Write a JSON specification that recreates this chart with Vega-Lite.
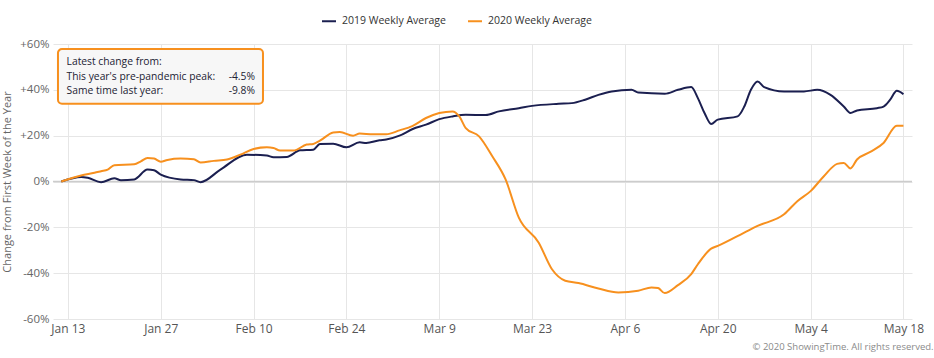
{
  "$schema": "https://vega.github.io/schema/vega-lite/v6.json",
  "autosize": {"type": "none"},
  "width": 859,
  "height": 275,
  "padding": {"left": 53, "top": 44, "right": 22, "bottom": 39},
  "background": "white",
  "config": {
    "font": "Open Sans",
    "view": {"stroke": null},
    "axis": {"labelFont": "Open Sans", "titleFont": "Open Sans", "domain": false, "ticks": false, "gridColor": "#e6e6e6", "gridWidth": 1}
  },
  "title": {"text": "© 2020 ShowingTime. All rights reserved.", "orient": "bottom", "anchor": "end", "fontSize": 9.5, "fontWeight": "normal", "color": "#8a8a8a", "offset": 8, "dx": 10, "font": "Open Sans"},
  "datasets": {
    "series": [
      {"date": "2020-01-12T00:00", "series": "2019 Weekly Average", "value": 0},
      {"date": "2020-01-15T00:00", "series": "2019 Weekly Average", "value": 2.0},
      {"date": "2020-01-16T00:00", "series": "2019 Weekly Average", "value": 1.6},
      {"date": "2020-01-18T00:00", "series": "2019 Weekly Average", "value": -0.3},
      {"date": "2020-01-20T00:00", "series": "2019 Weekly Average", "value": 1.4},
      {"date": "2020-01-21T00:00", "series": "2019 Weekly Average", "value": 0.6},
      {"date": "2020-01-23T00:00", "series": "2019 Weekly Average", "value": 0.9},
      {"date": "2020-01-25T00:00", "series": "2019 Weekly Average", "value": 5.2},
      {"date": "2020-01-26T00:00", "series": "2019 Weekly Average", "value": 4.9},
      {"date": "2020-01-27T00:00", "series": "2019 Weekly Average", "value": 3.0},
      {"date": "2020-01-30T00:00", "series": "2019 Weekly Average", "value": 0.9},
      {"date": "2020-02-01T00:00", "series": "2019 Weekly Average", "value": 0.6},
      {"date": "2020-02-02T00:00", "series": "2019 Weekly Average", "value": -0.3},
      {"date": "2020-02-05T00:00", "series": "2019 Weekly Average", "value": 5.2},
      {"date": "2020-02-09T00:00", "series": "2019 Weekly Average", "value": 11.7},
      {"date": "2020-02-12T00:00", "series": "2019 Weekly Average", "value": 11.3},
      {"date": "2020-02-13T00:00", "series": "2019 Weekly Average", "value": 10.6},
      {"date": "2020-02-15T00:00", "series": "2019 Weekly Average", "value": 10.7},
      {"date": "2020-02-17T00:00", "series": "2019 Weekly Average", "value": 13.6},
      {"date": "2020-02-19T00:00", "series": "2019 Weekly Average", "value": 13.9},
      {"date": "2020-02-20T00:00", "series": "2019 Weekly Average", "value": 16.4},
      {"date": "2020-02-22T00:00", "series": "2019 Weekly Average", "value": 16.5},
      {"date": "2020-02-24T00:00", "series": "2019 Weekly Average", "value": 14.9},
      {"date": "2020-02-26T00:00", "series": "2019 Weekly Average", "value": 17.1},
      {"date": "2020-02-27T00:00", "series": "2019 Weekly Average", "value": 16.8},
      {"date": "2020-02-29T00:00", "series": "2019 Weekly Average", "value": 18.0},
      {"date": "2020-03-01T00:00", "series": "2019 Weekly Average", "value": 18.3},
      {"date": "2020-03-03T00:00", "series": "2019 Weekly Average", "value": 20.0},
      {"date": "2020-03-05T00:00", "series": "2019 Weekly Average", "value": 22.9},
      {"date": "2020-03-07T00:00", "series": "2019 Weekly Average", "value": 24.8},
      {"date": "2020-03-09T00:00", "series": "2019 Weekly Average", "value": 27.2},
      {"date": "2020-03-11T00:00", "series": "2019 Weekly Average", "value": 28.4},
      {"date": "2020-03-13T00:00", "series": "2019 Weekly Average", "value": 29.1},
      {"date": "2020-03-16T00:00", "series": "2019 Weekly Average", "value": 29.0},
      {"date": "2020-03-18T00:00", "series": "2019 Weekly Average", "value": 30.6},
      {"date": "2020-03-21T00:00", "series": "2019 Weekly Average", "value": 32.0},
      {"date": "2020-03-23T00:00", "series": "2019 Weekly Average", "value": 33.0},
      {"date": "2020-03-27T00:00", "series": "2019 Weekly Average", "value": 33.9},
      {"date": "2020-03-29T00:00", "series": "2019 Weekly Average", "value": 34.2},
      {"date": "2020-03-31T00:00", "series": "2019 Weekly Average", "value": 35.7},
      {"date": "2020-04-02T00:00", "series": "2019 Weekly Average", "value": 37.8},
      {"date": "2020-04-04T00:00", "series": "2019 Weekly Average", "value": 39.3},
      {"date": "2020-04-07T00:00", "series": "2019 Weekly Average", "value": 40.0},
      {"date": "2020-04-08T00:00", "series": "2019 Weekly Average", "value": 38.8},
      {"date": "2020-04-12T00:00", "series": "2019 Weekly Average", "value": 38.3},
      {"date": "2020-04-14T00:00", "series": "2019 Weekly Average", "value": 40.0},
      {"date": "2020-04-16T00:00", "series": "2019 Weekly Average", "value": 41.2},
      {"date": "2020-04-17T00:00", "series": "2019 Weekly Average", "value": 36.4},
      {"date": "2020-04-18T00:00", "series": "2019 Weekly Average", "value": 29.9},
      {"date": "2020-04-19T00:00", "series": "2019 Weekly Average", "value": 25.1},
      {"date": "2020-04-20T00:00", "series": "2019 Weekly Average", "value": 27.0},
      {"date": "2020-04-23T00:00", "series": "2019 Weekly Average", "value": 28.4},
      {"date": "2020-04-24T00:00", "series": "2019 Weekly Average", "value": 32.7},
      {"date": "2020-04-25T00:00", "series": "2019 Weekly Average", "value": 40.0},
      {"date": "2020-04-26T00:00", "series": "2019 Weekly Average", "value": 43.6},
      {"date": "2020-04-27T00:00", "series": "2019 Weekly Average", "value": 41.2},
      {"date": "2020-04-30T00:00", "series": "2019 Weekly Average", "value": 39.3},
      {"date": "2020-05-03T00:00", "series": "2019 Weekly Average", "value": 39.3},
      {"date": "2020-05-05T00:00", "series": "2019 Weekly Average", "value": 40.0},
      {"date": "2020-05-07T00:00", "series": "2019 Weekly Average", "value": 37.8},
      {"date": "2020-05-09T00:00", "series": "2019 Weekly Average", "value": 32.7},
      {"date": "2020-05-10T00:00", "series": "2019 Weekly Average", "value": 29.9},
      {"date": "2020-05-11T00:00", "series": "2019 Weekly Average", "value": 31.0},
      {"date": "2020-05-14T00:00", "series": "2019 Weekly Average", "value": 32.0},
      {"date": "2020-05-15T00:00", "series": "2019 Weekly Average", "value": 32.7},
      {"date": "2020-05-16T00:00", "series": "2019 Weekly Average", "value": 35.7},
      {"date": "2020-05-17T00:00", "series": "2019 Weekly Average", "value": 39.6},
      {"date": "2020-05-18T00:00", "series": "2019 Weekly Average", "value": 38.1},
      {"date": "2020-01-12T00:00", "series": "2020 Weekly Average", "value": 0},
      {"date": "2020-01-15T00:00", "series": "2020 Weekly Average", "value": 2.6},
      {"date": "2020-01-17T00:00", "series": "2020 Weekly Average", "value": 3.8},
      {"date": "2020-01-18T00:00", "series": "2020 Weekly Average", "value": 4.5},
      {"date": "2020-01-19T00:00", "series": "2020 Weekly Average", "value": 5.2},
      {"date": "2020-01-20T00:00", "series": "2020 Weekly Average", "value": 7.1},
      {"date": "2020-01-23T00:00", "series": "2020 Weekly Average", "value": 7.5},
      {"date": "2020-01-24T00:00", "series": "2020 Weekly Average", "value": 8.8},
      {"date": "2020-01-25T00:00", "series": "2020 Weekly Average", "value": 10.3},
      {"date": "2020-01-26T00:00", "series": "2020 Weekly Average", "value": 10.0},
      {"date": "2020-01-27T00:00", "series": "2020 Weekly Average", "value": 8.6},
      {"date": "2020-01-28T00:00", "series": "2020 Weekly Average", "value": 9.4},
      {"date": "2020-01-30T00:00", "series": "2020 Weekly Average", "value": 10.0},
      {"date": "2020-02-01T00:00", "series": "2020 Weekly Average", "value": 9.7},
      {"date": "2020-02-02T00:00", "series": "2020 Weekly Average", "value": 8.3},
      {"date": "2020-02-04T00:00", "series": "2020 Weekly Average", "value": 9.0},
      {"date": "2020-02-06T00:00", "series": "2020 Weekly Average", "value": 9.6},
      {"date": "2020-02-08T00:00", "series": "2020 Weekly Average", "value": 11.7},
      {"date": "2020-02-10T00:00", "series": "2020 Weekly Average", "value": 14.2},
      {"date": "2020-02-12T00:00", "series": "2020 Weekly Average", "value": 14.9},
      {"date": "2020-02-13T00:00", "series": "2020 Weekly Average", "value": 14.6},
      {"date": "2020-02-14T00:00", "series": "2020 Weekly Average", "value": 13.5},
      {"date": "2020-02-16T00:00", "series": "2020 Weekly Average", "value": 13.5},
      {"date": "2020-02-18T00:00", "series": "2020 Weekly Average", "value": 16.1},
      {"date": "2020-02-19T00:00", "series": "2020 Weekly Average", "value": 16.4},
      {"date": "2020-02-20T00:00", "series": "2020 Weekly Average", "value": 17.8},
      {"date": "2020-02-22T00:00", "series": "2020 Weekly Average", "value": 21.4},
      {"date": "2020-02-23T00:00", "series": "2020 Weekly Average", "value": 21.6},
      {"date": "2020-02-25T00:00", "series": "2020 Weekly Average", "value": 20.0},
      {"date": "2020-02-26T00:00", "series": "2020 Weekly Average", "value": 20.9},
      {"date": "2020-02-28T00:00", "series": "2020 Weekly Average", "value": 20.6},
      {"date": "2020-03-01T00:00", "series": "2020 Weekly Average", "value": 20.6},
      {"date": "2020-03-03T00:00", "series": "2020 Weekly Average", "value": 22.3},
      {"date": "2020-03-05T00:00", "series": "2020 Weekly Average", "value": 24.3},
      {"date": "2020-03-07T00:00", "series": "2020 Weekly Average", "value": 27.7},
      {"date": "2020-03-09T00:00", "series": "2020 Weekly Average", "value": 29.9},
      {"date": "2020-03-11T00:00", "series": "2020 Weekly Average", "value": 30.6},
      {"date": "2020-03-12T00:00", "series": "2020 Weekly Average", "value": 28.5},
      {"date": "2020-03-13T00:00", "series": "2020 Weekly Average", "value": 23.3},
      {"date": "2020-03-15T00:00", "series": "2020 Weekly Average", "value": 19.7},
      {"date": "2020-03-17T00:00", "series": "2020 Weekly Average", "value": 11.0},
      {"date": "2020-03-19T00:00", "series": "2020 Weekly Average", "value": 0.9},
      {"date": "2020-03-21T00:00", "series": "2020 Weekly Average", "value": -15.8},
      {"date": "2020-03-24T00:00", "series": "2020 Weekly Average", "value": -26.7},
      {"date": "2020-03-26T00:00", "series": "2020 Weekly Average", "value": -38.3},
      {"date": "2020-03-28T00:00", "series": "2020 Weekly Average", "value": -43.3},
      {"date": "2020-03-30T00:00", "series": "2020 Weekly Average", "value": -44.3},
      {"date": "2020-04-02T00:00", "series": "2020 Weekly Average", "value": -46.7},
      {"date": "2020-04-05T00:00", "series": "2020 Weekly Average", "value": -48.4},
      {"date": "2020-04-08T00:00", "series": "2020 Weekly Average", "value": -47.7},
      {"date": "2020-04-10T00:00", "series": "2020 Weekly Average", "value": -46.2},
      {"date": "2020-04-11T00:00", "series": "2020 Weekly Average", "value": -46.5},
      {"date": "2020-04-12T00:00", "series": "2020 Weekly Average", "value": -48.7},
      {"date": "2020-04-14T00:00", "series": "2020 Weekly Average", "value": -45.2},
      {"date": "2020-04-16T00:00", "series": "2020 Weekly Average", "value": -40.4},
      {"date": "2020-04-17T00:00", "series": "2020 Weekly Average", "value": -36.1},
      {"date": "2020-04-19T00:00", "series": "2020 Weekly Average", "value": -29.3},
      {"date": "2020-04-20T00:00", "series": "2020 Weekly Average", "value": -28.1},
      {"date": "2020-04-24T00:00", "series": "2020 Weekly Average", "value": -22.3},
      {"date": "2020-04-26T00:00", "series": "2020 Weekly Average", "value": -19.4},
      {"date": "2020-04-30T00:00", "series": "2020 Weekly Average", "value": -14.3},
      {"date": "2020-05-02T00:00", "series": "2020 Weekly Average", "value": -8.6},
      {"date": "2020-05-04T00:00", "series": "2020 Weekly Average", "value": -4.2},
      {"date": "2020-05-06T00:00", "series": "2020 Weekly Average", "value": 2.3},
      {"date": "2020-05-08T00:00", "series": "2020 Weekly Average", "value": 7.7},
      {"date": "2020-05-09T00:00", "series": "2020 Weekly Average", "value": 8.1},
      {"date": "2020-05-10T00:00", "series": "2020 Weekly Average", "value": 5.7},
      {"date": "2020-05-11T00:00", "series": "2020 Weekly Average", "value": 9.6},
      {"date": "2020-05-13T00:00", "series": "2020 Weekly Average", "value": 12.9},
      {"date": "2020-05-15T00:00", "series": "2020 Weekly Average", "value": 16.8},
      {"date": "2020-05-17T00:00", "series": "2020 Weekly Average", "value": 24.3},
      {"date": "2020-05-18T00:00", "series": "2020 Weekly Average", "value": 24.3}
    ],
    "box": [
      {"start": "2020-01-11T12:00", "end": "2020-02-11T10:00", "top": 57.8, "bottom": 33.9}
    ],
    "labels": [
      {"date": "2020-01-12T19:00", "value": 52.0, "text": "Latest change from:", "side": "left"},
      {"date": "2020-01-12T19:00", "value": 45.4, "text": "This year's pre-pandemic peak:", "side": "left"},
      {"date": "2020-01-12T19:00", "value": 39.7, "text": "Same time last year:", "side": "left"},
      {"date": "2020-02-10T05:00", "value": 45.4, "text": "-4.5%", "side": "right"},
      {"date": "2020-02-10T05:00", "value": 39.7, "text": "-9.8%", "side": "right"}
    ]
  },
  "layer": [
    {
      "data": {"values": [{"zero": 0}]},
      "mark": {"type": "rule", "color": "#cccccc", "strokeWidth": 1.5},
      "encoding": {"y": {"field": "zero", "type": "quantitative", "scale": {"domain": [-60, 60]}}}
    },
    {
      "data": {"name": "series"},
      "mark": {"type": "line", "interpolate": "monotone", "strokeWidth": 2},
      "encoding": {
        "x": {
          "field": "date", "type": "temporal",
          "scale": {"domain": [{"year": 2020, "month": "jan", "date": 10, "hours": 18}, {"year": 2020, "month": "may", "date": 19, "hours": 7}]},
          "axis": {
            "title": null, "format": "%b %-d", "labelFontSize": 12, "labelColor": "#555555", "labelPadding": 4, "grid": true,
            "values": [
              {"year": 2020, "month": "jan", "date": 13}, {"year": 2020, "month": "jan", "date": 27},
              {"year": 2020, "month": "feb", "date": 10}, {"year": 2020, "month": "feb", "date": 24},
              {"year": 2020, "month": "mar", "date": 9}, {"year": 2020, "month": "mar", "date": 23},
              {"year": 2020, "month": "apr", "date": 6}, {"year": 2020, "month": "apr", "date": 20},
              {"year": 2020, "month": "may", "date": 4}, {"year": 2020, "month": "may", "date": 18}
            ]
          }
        },
        "y": {
          "field": "value", "type": "quantitative",
          "scale": {"domain": [-60, 60], "nice": false},
          "axis": {
            "title": "Change from First Week of the Year", "titleFontSize": 11, "titleFontWeight": "normal", "titleColor": "#666666", "titlePadding": 7,
            "values": [-60, -40, -20, 0, 20, 40, 60], "labelFontSize": 11.5, "labelColor": "#666666", "labelPadding": 4, "grid": true,
            "labelExpr": "datum.value > 0 ? '+' + datum.value + '%' : datum.value + '%'"
          }
        },
        "color": {
          "field": "series", "type": "nominal",
          "scale": {"domain": ["2019 Weekly Average", "2020 Weekly Average"], "range": ["#1b1f50", "#f7901e"]},
          "legend": {
            "title": null, "orient": "none", "legendX": 268, "legendY": -31, "direction": "horizontal",
            "symbolType": "stroke", "symbolStrokeWidth": 2, "symbolSize": 196, "labelFontSize": 10.5, "labelColor": "#333333",
            "labelFont": "Open Sans", "columnPadding": 18, "labelOffset": 5
          }
        }
      }
    },
    {
      "data": {"name": "box"},
      "mark": {"type": "rect", "fill": "#f7f7f7", "stroke": "#f7901e", "strokeWidth": 2, "cornerRadius": 4},
      "encoding": {
        "x": {"field": "start", "type": "temporal"},
        "x2": {"field": "end"},
        "y": {"field": "top", "type": "quantitative"},
        "y2": {"field": "bottom"}
      }
    },
    {
      "data": {"name": "labels"},
      "transform": [{"filter": "datum.side == 'left'"}],
      "mark": {"type": "text", "align": "left", "baseline": "middle", "fontSize": 10.3, "color": "#222233", "font": "Open Sans"},
      "encoding": {
        "x": {"field": "date", "type": "temporal"},
        "y": {"field": "value", "type": "quantitative"},
        "text": {"field": "text"}
      }
    },
    {
      "data": {"name": "labels"},
      "transform": [{"filter": "datum.side == 'right'"}],
      "mark": {"type": "text", "align": "right", "baseline": "middle", "fontSize": 10.3, "color": "#222233", "font": "Open Sans"},
      "encoding": {
        "x": {"field": "date", "type": "temporal"},
        "y": {"field": "value", "type": "quantitative"},
        "text": {"field": "text"}
      }
    }
  ]
}
